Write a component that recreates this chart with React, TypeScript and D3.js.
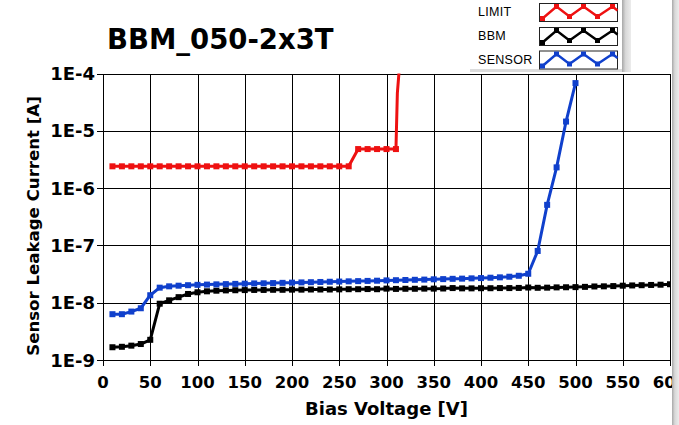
import React from "react";
import * as d3 from "d3";

const TITLE = "BBM_050-2x3T";
const X_LABEL = "Bias Voltage [V]";
const Y_LABEL = "Sensor Leakage Current [A]";
const X_TICKS = [0, 50, 100, 150, 200, 250, 300, 350, 400, 450, 500, 550, 600];
const Y_TICKS = [1e-4, 1e-5, 1e-6, 1e-7, 1e-8, 1e-9];
const Y_TICK_LABELS = ["1E-4", "1E-5", "1E-6", "1E-7", "1E-8", "1E-9"];

const limitV = [10, 20, 30, 40, 50, 60, 70, 80, 90, 100, 110, 120, 130, 140, 150, 160, 170, 180, 190, 200, 210, 220, 230, 240, 250, 260, 270, 280, 290, 300, 310, 311.5, 318];
const limitI = [2.4e-6, 2.4e-6, 2.4e-6, 2.4e-6, 2.4e-6, 2.4e-6, 2.4e-6, 2.4e-6, 2.4e-6, 2.4e-6, 2.4e-6, 2.4e-6, 2.4e-6, 2.4e-6, 2.4e-6, 2.4e-6, 2.4e-6, 2.4e-6, 2.4e-6, 2.4e-6, 2.4e-6, 2.4e-6, 2.4e-6, 2.4e-6, 2.4e-6, 2.4e-6, 4.8e-6, 4.8e-6, 4.8e-6, 4.8e-6, 4.8e-6, 4.6e-5, 1e-3];
const limitMarked = 31;

const bbmV = [10, 20, 30, 40, 50, 60, 70, 80, 90, 100, 110, 120, 130, 140, 150, 160, 170, 180, 190, 200, 210, 220, 230, 240, 250, 260, 270, 280, 290, 300, 310, 320, 330, 340, 350, 360, 370, 380, 390, 400, 410, 420, 430, 440, 450, 460, 470, 480, 490, 500, 510, 520, 530, 540, 550, 560, 570, 580, 590, 600];
const bbmI = [1.67e-9, 1.7e-9, 1.78e-9, 1.9e-9, 2.25e-9, 9.6e-9, 1.1e-8, 1.25e-8, 1.42e-8, 1.52e-8, 1.58e-8, 1.62e-8, 1.64e-8, 1.65e-8, 1.66e-8, 1.67e-8, 1.67e-8, 1.68e-8, 1.68e-8, 1.69e-8, 1.69e-8, 1.7e-8, 1.7e-8, 1.7e-8, 1.71e-8, 1.72e-8, 1.72e-8, 1.73e-8, 1.72e-8, 1.76e-8, 1.74e-8, 1.75e-8, 1.75e-8, 1.76e-8, 1.76e-8, 1.77e-8, 1.8e-8, 1.78e-8, 1.78e-8, 1.79e-8, 1.79e-8, 1.8e-8, 1.8e-8, 1.81e-8, 1.84e-8, 1.82e-8, 1.83e-8, 1.85e-8, 1.86e-8, 1.87e-8, 1.89e-8, 1.92e-8, 1.93e-8, 1.95e-8, 1.98e-8, 2.0e-8, 2.02e-8, 2.04e-8, 2.06e-8, 2.1e-8];

const sensorV = [10, 20, 30, 40, 50, 60, 70, 80, 90, 100, 110, 120, 130, 140, 150, 160, 170, 180, 190, 200, 210, 220, 230, 240, 250, 260, 270, 280, 290, 300, 310, 320, 330, 340, 350, 360, 370, 380, 390, 400, 410, 420, 430, 440, 450, 460, 470, 480, 490, 500];
const sensorI = [6.3e-9, 6.3e-9, 7.0e-9, 8.0e-9, 1.35e-8, 1.83e-8, 1.93e-8, 1.98e-8, 2.02e-8, 2.05e-8, 2.07e-8, 2.09e-8, 2.11e-8, 2.13e-8, 2.15e-8, 2.17e-8, 2.18e-8, 2.2e-8, 2.22e-8, 2.24e-8, 2.26e-8, 2.28e-8, 2.3e-8, 2.32e-8, 2.34e-8, 2.36e-8, 2.38e-8, 2.4e-8, 2.42e-8, 2.45e-8, 2.47e-8, 2.49e-8, 2.51e-8, 2.53e-8, 2.56e-8, 2.58e-8, 2.61e-8, 2.63e-8, 2.66e-8, 2.69e-8, 2.73e-8, 2.77e-8, 2.84e-8, 2.95e-8, 3.2e-8, 8.0e-8, 5.1e-7, 2.3e-6, 1.45e-5, 6.8e-5];

const LEGEND = ["LIMIT", "BBM", "SENSOR"];
const RED = "#ee1111";
const BLACK = "#000000";
const BLUE = "#1040cc";
const COLORS = [RED, BLACK, BLUE];

const W = 679, H = 425;
const L = 103, R = 670, T = 73.5, B = 360;
const FONT = "'DejaVu Sans', Verdana, sans-serif";

export default function App() {
  const x = d3.scaleLinear().domain([0, 600]).range([L, R]);
  const y = d3.scaleLog().domain([1e-9, 1e-4]).range([B, T]);
  const line = d3.line<[number, number]>().x(d => x(d[0])).y(d => y(d[1]));

  const series = [
    { v: limitV, i: limitI, c: RED, n: limitMarked },
    { v: bbmV, i: bbmI, c: BLACK, n: bbmV.length },
    { v: sensorV, i: sensorI, c: BLUE, n: sensorV.length },
  ];

  // legend swatch zigzag (relative to swatch box)
  const zig: [number, number][] = [[3, 15.5], [17, 3.5], [30, 13.5], [44, 3.5], [58, 13.5], [73, 3.5], [78, 7.5]];

  return (
    <div style={{ position: "absolute", left: 0, top: 0, width: W, height: H, background: "#fff" }}>
      <svg width={W} height={H} style={{ display: "block" }} fontFamily={FONT}>
        <defs>
          <clipPath id="plotclip">
            <rect x={L} y={T} width={R - L} height={B - T} />
          </clipPath>
          <linearGradient id="edge" x1="0" x2="1" y1="0" y2="0">
            <stop offset="0" stopColor="#a8a8a8" />
            <stop offset="0.4" stopColor="#d8d8d8" />
            <stop offset="1" stopColor="#ececec" />
          </linearGradient>
        </defs>
        <rect x={0} y={0} width={W} height={H} fill="#fff" />

        {/* title */}
        <text x={107} y={49} fontSize={27.5} fontWeight="bold" fill="#000">{TITLE}</text>

        {/* grid */}
        <g stroke="#000" strokeWidth={1} shapeRendering="crispEdges">
          {X_TICKS.map(t => (
            <line key={"gx" + t} x1={Math.round(x(t)) + 0.5} x2={Math.round(x(t)) + 0.5} y1={T} y2={B + 6} />
          ))}
          {Y_TICKS.map(t => (
            <line key={"gy" + t} x1={L - 6} x2={R} y1={Math.round(y(t)) + 0.5} y2={Math.round(y(t)) + 0.5} />
          ))}
        </g>

        {/* tick labels */}
        {X_TICKS.map(t => (
          <text key={"xl" + t} x={x(t)} y={388} fontSize={16.5} fontWeight="bold" textAnchor="middle">{t}</text>
        ))}
        {Y_TICKS.map((t, k) => (
          <text key={"yl" + t} x={95} y={y(t) + 6.5} fontSize={18} fontWeight="bold" textAnchor="end">{Y_TICK_LABELS[k]}</text>
        ))}

        {/* axis titles */}
        <text x={386.5} y={415} fontSize={18} fontWeight="bold" textAnchor="middle">{X_LABEL}</text>
        <text transform="translate(39,226) rotate(-90)" fontSize={16.6} fontWeight="bold" textAnchor="middle">{Y_LABEL}</text>

        {/* series */}
        <g clipPath="url(#plotclip)">
          {series.map((s, k) => {
            const pts: [number, number][] = s.v.map((v, j) => [v, s.i[j]]);
            return (
              <g key={"s" + k}>
                <path d={line(pts) || ""} fill="none" stroke={s.c} strokeWidth={3} strokeLinejoin="round" />
                {pts.slice(0, s.n).map((p, j) => (
                  <rect key={j} x={x(p[0]) - 3} y={y(p[1]) - 3} width={6} height={6} fill={s.c} />
                ))}
              </g>
            );
          })}
        </g>

        {/* legend panel */}
        <rect x={470} y={0} width={154} height={70} fill="#fff" />
        <rect x={470} y={69} width={158} height={3} fill="#dcdcdc" />
        <rect x={622} y={0} width={9} height={72} fill="url(#edge)" />
        {LEGEND.map((name, k) => {
          const by = [3, 27, 50.5][k];
          return (
            <g key={"lg" + k}>
              <text x={478} y={[16, 39.5, 63.5][k]} fontSize={12.5} letterSpacing={0.3} fontFamily="'Liberation Sans', Arial, sans-serif" fill="#000">{name}</text>
              <rect x={539.5} y={by + 0.5} width={78} height={18} fill="#fff" stroke="#222" strokeWidth={1} />
              <polyline points={zig.map(p => `${539.5 + p[0]},${by + p[1]}`).join(" ")} fill="none" stroke={COLORS[k]} strokeWidth={2.5} />
              {zig.slice(0, 6).map((p, j) => (
                <rect key={j} x={539.5 + p[0] - 2.5} y={by + p[1] - 2.5} width={5} height={5} fill={COLORS[k]} />
              ))}
            </g>
          );
        })}

        {/* right window edge */}
        <rect x={672} y={0} width={7} height={H} fill="url(#edge)" />
      </svg>
    </div>
  );
}
